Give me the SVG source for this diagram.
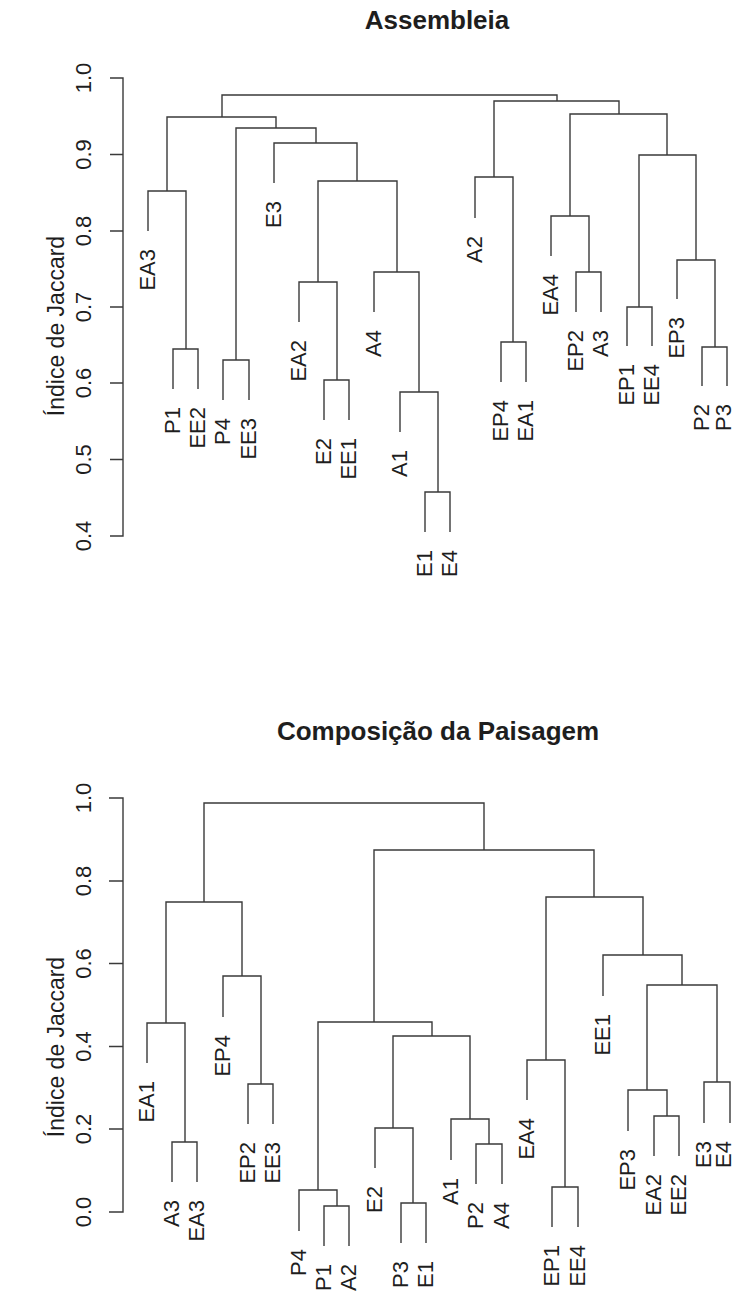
<svg xmlns="http://www.w3.org/2000/svg" width="734" height="1293" viewBox="0 0 734 1293">
<style>
text{font-family:"Liberation Sans",Arial,Helvetica,sans-serif;fill:#1e1e1e}
.t{font-size:26px;font-weight:bold;text-anchor:middle}
.ax{font-size:22px;text-anchor:middle}
.yl{font-size:23px;text-anchor:middle}
.lf{font-size:22px;text-anchor:end}
.ln{fill:none;stroke:#3a3a3a;stroke-width:1.4;stroke-linecap:butt;stroke-linejoin:miter}
</style>
<rect width="734" height="1293" fill="#ffffff"/>

<!-- ===== Top: Assembleia ===== -->
<g id="title-top"><text class="t" x="437" y="29">Assembleia</text></g>
<g id="axis-top">
<path class="ln" d="M110 78H123V536H110M110 154.5H123M110 231H123M110 307H123M110 383H123M110 459.5H123"/>
<text class="ax" transform="translate(91,78) rotate(-90)">1.0</text>
<text class="ax" transform="translate(91,154.5) rotate(-90)">0.9</text>
<text class="ax" transform="translate(91,231) rotate(-90)">0.8</text>
<text class="ax" transform="translate(91,307) rotate(-90)">0.7</text>
<text class="ax" transform="translate(91,383) rotate(-90)">0.6</text>
<text class="ax" transform="translate(91,459.5) rotate(-90)">0.5</text>
<text class="ax" transform="translate(91,536) rotate(-90)">0.4</text>
<text class="yl" transform="translate(64,326) rotate(-90)">Índice de Jaccard</text>
</g>
<g id="connectors-top">
<path class="ln" d="M425 532V492H450V532"/>
<path class="ln" d="M400 432V392H438V492"/>
<path class="ln" d="M374 312V272H419V392"/>
<path class="ln" d="M324 420V380H349V420"/>
<path class="ln" d="M299 322V282H337V380"/>
<path class="ln" d="M318 282V181H397V272"/>
<path class="ln" d="M274 183V143H357V181"/>
<path class="ln" d="M223 400V360H249V400"/>
<path class="ln" d="M236 360V128H316V143"/>
<path class="ln" d="M173 389V349H198V389"/>
<path class="ln" d="M148 231V191H186V349"/>
<path class="ln" d="M167 191V117H276V128"/>
<path class="ln" d="M501 382V342H526V382"/>
<path class="ln" d="M475 218V177H513V342"/>
<path class="ln" d="M576 312V272H601V312"/>
<path class="ln" d="M551 256V216H589V272"/>
<path class="ln" d="M627 346V307H652V346"/>
<path class="ln" d="M702 386V347H727V386"/>
<path class="ln" d="M677 299V260H715V347"/>
<path class="ln" d="M639 307V155H696V260"/>
<path class="ln" d="M570 216V114H667V155"/>
<path class="ln" d="M494 177V101H619V114"/>
<path class="ln" d="M222 117V95H557V101"/>
</g>
<g id="leaf-EA3-top"><text class="lf" transform="translate(155,249) rotate(-90)">EA3</text></g>
<g id="leaf-P1-top"><text class="lf" transform="translate(180,407) rotate(-90)">P1</text></g>
<g id="leaf-EE2-top"><text class="lf" transform="translate(205,407) rotate(-90)">EE2</text></g>
<g id="leaf-P4-top"><text class="lf" transform="translate(230,418) rotate(-90)">P4</text></g>
<g id="leaf-EE3-top"><text class="lf" transform="translate(256,418) rotate(-90)">EE3</text></g>
<g id="leaf-E3-top"><text class="lf" transform="translate(281,201) rotate(-90)">E3</text></g>
<g id="leaf-EA2-top"><text class="lf" transform="translate(306,340) rotate(-90)">EA2</text></g>
<g id="leaf-E2-top"><text class="lf" transform="translate(331,438) rotate(-90)">E2</text></g>
<g id="leaf-EE1-top"><text class="lf" transform="translate(356,438) rotate(-90)">EE1</text></g>
<g id="leaf-A4-top"><text class="lf" transform="translate(381,330) rotate(-90)">A4</text></g>
<g id="leaf-A1-top"><text class="lf" transform="translate(407,450) rotate(-90)">A1</text></g>
<g id="leaf-E1-top"><text class="lf" transform="translate(432,550) rotate(-90)">E1</text></g>
<g id="leaf-E4-top"><text class="lf" transform="translate(457,550) rotate(-90)">E4</text></g>
<g id="leaf-A2-top"><text class="lf" transform="translate(482,236) rotate(-90)">A2</text></g>
<g id="leaf-EP4-top"><text class="lf" transform="translate(508,400) rotate(-90)">EP4</text></g>
<g id="leaf-EA1-top"><text class="lf" transform="translate(533,400) rotate(-90)">EA1</text></g>
<g id="leaf-EA4-top"><text class="lf" transform="translate(558,274) rotate(-90)">EA4</text></g>
<g id="leaf-EP2-top"><text class="lf" transform="translate(583,330) rotate(-90)">EP2</text></g>
<g id="leaf-A3-top"><text class="lf" transform="translate(608,330) rotate(-90)">A3</text></g>
<g id="leaf-EP1-top"><text class="lf" transform="translate(634,364) rotate(-90)">EP1</text></g>
<g id="leaf-EE4-top"><text class="lf" transform="translate(659,364) rotate(-90)">EE4</text></g>
<g id="leaf-EP3-top"><text class="lf" transform="translate(684,317) rotate(-90)">EP3</text></g>
<g id="leaf-P2-top"><text class="lf" transform="translate(709,404) rotate(-90)">P2</text></g>
<g id="leaf-P3-top"><text class="lf" transform="translate(731,404) rotate(-90)">P3</text></g>

<!-- ===== Bottom: Composição da Paisagem ===== -->
<g id="title-bottom"><text class="t" x="438" y="740">Composição da Paisagem</text></g>
<g id="axis-bottom">
<path class="ln" d="M109 798H123V1212H109M109 881H123M109 963.5H123M109 1046.5H123M109 1129H123"/>
<text class="ax" transform="translate(91,798) rotate(-90)">1.0</text>
<text class="ax" transform="translate(91,881) rotate(-90)">0.8</text>
<text class="ax" transform="translate(91,963.5) rotate(-90)">0.6</text>
<text class="ax" transform="translate(91,1046.5) rotate(-90)">0.4</text>
<text class="ax" transform="translate(91,1129) rotate(-90)">0.2</text>
<text class="ax" transform="translate(91,1212) rotate(-90)">0.0</text>
<text class="yl" transform="translate(64,1047) rotate(-90)">Índice de Jaccard</text>
</g>
<g id="connectors-bottom">
<path class="ln" d="M172 1182V1142H197V1182"/>
<path class="ln" d="M147 1063V1023H185V1142"/>
<path class="ln" d="M248 1124V1084H273V1124"/>
<path class="ln" d="M223 1017V976H261V1084"/>
<path class="ln" d="M166 1023V902H242V976"/>
<path class="ln" d="M324 1246V1206H349V1246"/>
<path class="ln" d="M299 1231V1190H337V1206"/>
<path class="ln" d="M401 1243V1203H426V1243"/>
<path class="ln" d="M375 1168V1128H413V1203"/>
<path class="ln" d="M476 1184V1144H502V1184"/>
<path class="ln" d="M451 1160V1119H489V1144"/>
<path class="ln" d="M393 1128V1036H470V1119"/>
<path class="ln" d="M318 1190V1022H432V1036"/>
<path class="ln" d="M552 1227V1187H578V1227"/>
<path class="ln" d="M527 1100V1060H565V1187"/>
<path class="ln" d="M654 1156V1116H679V1156"/>
<path class="ln" d="M628 1131V1090H667V1116"/>
<path class="ln" d="M704 1123V1082H730V1123"/>
<path class="ln" d="M647 1090V985H717V1082"/>
<path class="ln" d="M603 996V955H682V985"/>
<path class="ln" d="M546 1060V897H643V955"/>
<path class="ln" d="M374 1022V850H594V897"/>
<path class="ln" d="M204 902V803H484V850"/>
</g>
<g id="leaf-EA1-bot"><text class="lf" transform="translate(154,1081) rotate(-90)">EA1</text></g>
<g id="leaf-A3-bot"><text class="lf" transform="translate(179,1200) rotate(-90)">A3</text></g>
<g id="leaf-EA3-bot"><text class="lf" transform="translate(204,1200) rotate(-90)">EA3</text></g>
<g id="leaf-EP4-bot"><text class="lf" transform="translate(230,1035) rotate(-90)">EP4</text></g>
<g id="leaf-EP2-bot"><text class="lf" transform="translate(255,1142) rotate(-90)">EP2</text></g>
<g id="leaf-EE3-bot"><text class="lf" transform="translate(280,1142) rotate(-90)">EE3</text></g>
<g id="leaf-P4-bot"><text class="lf" transform="translate(306,1249) rotate(-90)">P4</text></g>
<g id="leaf-P1-bot"><text class="lf" transform="translate(331,1264) rotate(-90)">P1</text></g>
<g id="leaf-A2-bot"><text class="lf" transform="translate(356,1264) rotate(-90)">A2</text></g>
<g id="leaf-E2-bot"><text class="lf" transform="translate(382,1186) rotate(-90)">E2</text></g>
<g id="leaf-P3-bot"><text class="lf" transform="translate(408,1261) rotate(-90)">P3</text></g>
<g id="leaf-E1-bot"><text class="lf" transform="translate(433,1261) rotate(-90)">E1</text></g>
<g id="leaf-A1-bot"><text class="lf" transform="translate(458,1178) rotate(-90)">A1</text></g>
<g id="leaf-P2-bot"><text class="lf" transform="translate(483,1202) rotate(-90)">P2</text></g>
<g id="leaf-A4-bot"><text class="lf" transform="translate(509,1202) rotate(-90)">A4</text></g>
<g id="leaf-EA4-bot"><text class="lf" transform="translate(534,1118) rotate(-90)">EA4</text></g>
<g id="leaf-EP1-bot"><text class="lf" transform="translate(559,1245) rotate(-90)">EP1</text></g>
<g id="leaf-EE4-bot"><text class="lf" transform="translate(585,1245) rotate(-90)">EE4</text></g>
<g id="leaf-EE1-bot"><text class="lf" transform="translate(610,1014) rotate(-90)">EE1</text></g>
<g id="leaf-EP3-bot"><text class="lf" transform="translate(635,1149) rotate(-90)">EP3</text></g>
<g id="leaf-EA2-bot"><text class="lf" transform="translate(661,1174) rotate(-90)">EA2</text></g>
<g id="leaf-EE2-bot"><text class="lf" transform="translate(686,1174) rotate(-90)">EE2</text></g>
<g id="leaf-E3-bot"><text class="lf" transform="translate(711,1141) rotate(-90)">E3</text></g>
<g id="leaf-E4-bot"><text class="lf" transform="translate(731,1141) rotate(-90)">E4</text></g>
</svg>
